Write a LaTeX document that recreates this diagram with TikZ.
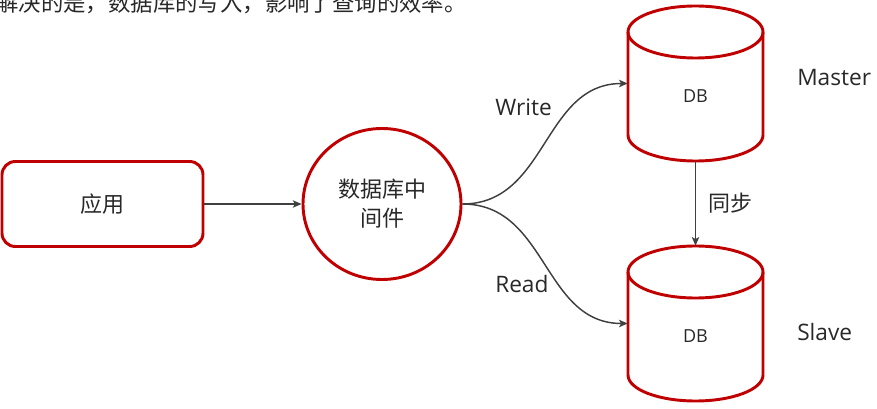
\documentclass[tikz,border=0pt]{standalone}
\usepackage{fontspec}
\setmainfont{Open Sans}
\newfontfamily\cjk{Noto Sans CJK SC}
\usepackage{xcolor}
\usepackage{tikz}
\usetikzlibrary{arrows.meta,shapes.geometric}
\definecolor{dbred}{RGB}{192,0,0}
\definecolor{linegray}{RGB}{64,64,64}
\definecolor{txtgray}{RGB}{40,40,40}

\begin{document}
\begin{tikzpicture}[x=0.75pt, y=-0.75pt,
    redline/.style={draw=dbred, line width=2.2pt},
    appbox/.style={redline, rounded corners=10pt, minimum width=150.75pt, minimum height=63.75pt, font=\cjk\fontsize{16.5}{20}\selectfont, text=txtgray},
    mwnode/.style={redline, ellipse, minimum width=118.5pt, minimum height=113.25pt, inner sep=0pt, align=center, font=\cjk\fontsize{16.5}{21.75}\selectfont, text=txtgray},
    dbbox/.style={minimum width=101.25pt, minimum height=116.25pt, inner sep=0pt},
    link/.style={draw=linegray, line width=1.1pt, -{Stealth[length=6.5pt, width=5.5pt, inset=1.5pt]}},
    tag/.style={anchor=west, inner sep=0pt, font=\fontsize{17}{20}\selectfont, text=txtgray}]
    \useasboundingbox (0,0) rectangle (877,409);
    \clip (0,0) rectangle (877,409);

    % cut-off sentence at the top
    \node[anchor=base west, inner sep=0pt, text=txtgray, font=\cjk\fontsize{16.8}{20}\selectfont] (note) at (-4,11.5) {解决的是，数据库的写入，影响了查询的效率。};

    \node[appbox] (app) at (102.5,204) {应用};
    \node[mwnode] (mw) at (382,204) {数据库中\\间件};

    % the two databases
    \foreach \n/\ypos in {master/83.5, slave/323.5} {
        \node[dbbox] (\n) at (695.5,\ypos) {};
        \draw[redline] (695.5,\ypos-51.5) ellipse [x radius=67.5, y radius=26];
        \draw[redline] (628,\ypos-51.5) -- (628,\ypos+51.5)
            arc [start angle=180, end angle=0, x radius=67.5, y radius=26] -- (763,\ypos-51.5);
        \node[inner sep=0pt, font=\fontsize{13.5}{16}\selectfont, text=txtgray] at (695.5,\ypos+13) {DB};
    }
    \node[tag] (mlabel) at (797,78) {Master};
    \node[tag] (slabel) at (797,332) {Slave};

    \draw[link] (app) -- (mw);
    \draw[link] (mw.east) .. controls +(85,0) and +(-85,0) .. (master.west);
    \draw[link] (mw.east) .. controls +(85,0) and +(-85,0) .. (slave.west);
    \draw[link] (master.south) -- (slave.north)
        node[midway, anchor=west, xshift=9.5pt, inner sep=0pt, font=\cjk\fontsize{16.5}{20}\selectfont, text=txtgray] {同步};

    \node[tag] (wlabel) at (495,107) {Write};
    \node[tag] (rlabel) at (495,284) {Read};
\end{tikzpicture}
\end{document}
